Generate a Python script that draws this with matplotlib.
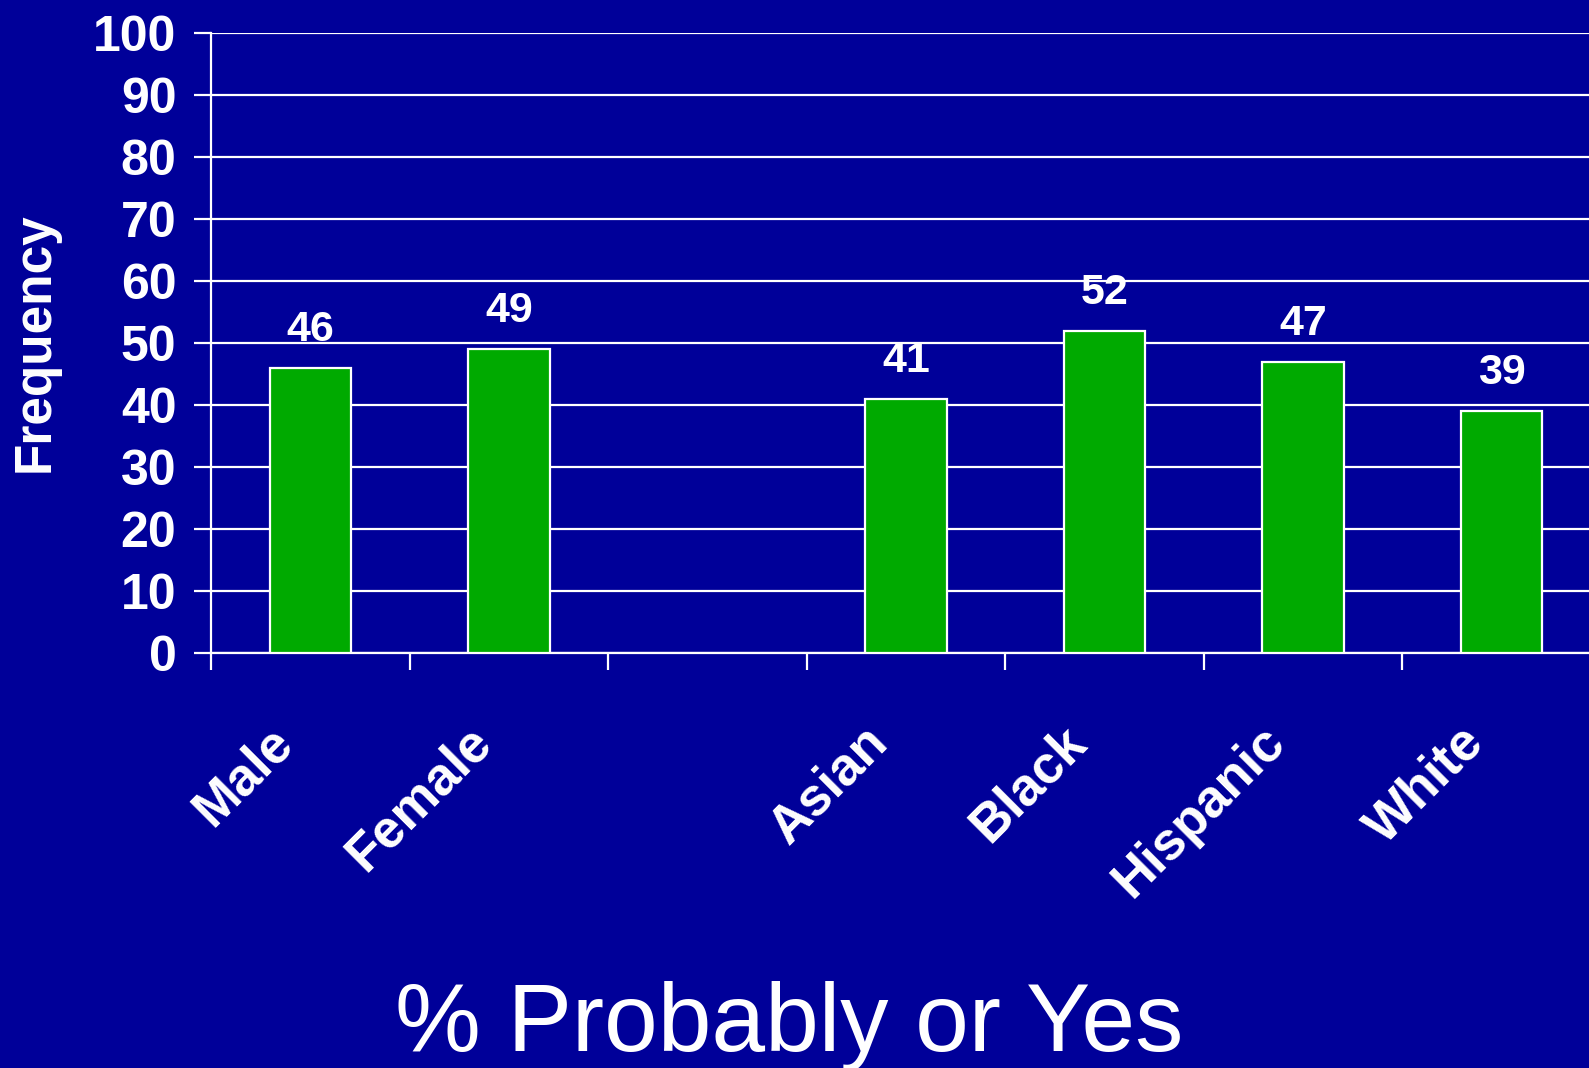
import numpy as np
import matplotlib
matplotlib.use("Agg")
import matplotlib.pyplot as plt

categories = ['Male', 'Female', '', 'Asian', 'Black', 'Hispanic', 'White']
values = [46, 49, None, 41, 52, 47, 39]
yticks = list(range(0, 101, 10))

bg = '#000099'
green = '#00AA00'
plt.rcParams['font.family'] = ['Liberation Sans', 'DejaVu Sans']

fig = plt.figure(figsize=(15.89, 10.68), dpi=100, facecolor=bg)
# axes runs a little past the right edge, as in the original slide
ax = fig.add_axes([211 / 1589, 415 / 1068, 1390 / 1589, 620 / 1068])
ax.set_facecolor(bg)

n = len(categories)
x = np.arange(n) + 0.5
for xi, v in zip(x, values):
    if v is None:
        continue
    ax.bar(xi, v, width=0.41, color=green, edgecolor='white', linewidth=1.6, zorder=3)
    ax.annotate(str(v), (xi, v), xytext=(0, 13), textcoords='offset points',
                ha='center', va='bottom', color='white', fontsize=31, fontweight='bold')

ax.set_xlim(0, n)
ax.set_ylim(0, 100)
ax.set_yticks(yticks)
ax.set_yticklabels([str(t) for t in yticks], fontsize=36, fontweight='bold', color='white')
ax.yaxis.grid(True, color='white', linewidth=1.6, zorder=0)
ax.set_axisbelow(True)

# boundaries get the tick marks, centres get the labels
ax.set_xticks(np.arange(n))
ax.set_xticklabels([])
ax.set_xticks(x, minor=True)
ax.set_xticklabels(categories, minor=True, rotation=45, ha='right', va='top',
                   fontsize=38, fontweight='bold', color='white')
ax.tick_params(axis='x', which='minor', length=0, pad=46)
ax.tick_params(axis='both', which='major', direction='out', length=12,
               width=1.6, color='white')
ax.tick_params(axis='y', pad=13)

for lab in ax.get_xticklabels(minor=True):
    lab.set_transform(lab.get_transform() + matplotlib.transforms.ScaledTranslation(-8 / 100, 0, fig.dpi_scale_trans))

for s in ['top', 'right']:
    ax.spines[s].set_visible(False)
ax.spines['left'].set_color('white')
ax.spines['bottom'].set_color('white')
ax.spines['left'].set_linewidth(1.6)
ax.spines['bottom'].set_linewidth(1.6)

fig.text(35 / 1589, 1 - 342 / 1068, 'Frequency', rotation=90, ha='center', va='center',
         color='white', fontsize=37, fontweight='bold')
fig.text(789 / 1589, 17 / 1068, '% Probably or Yes', ha='center', va='baseline',
         color='white', fontsize=69.5)

fig.savefig('out.png', dpi=100, facecolor=bg)
